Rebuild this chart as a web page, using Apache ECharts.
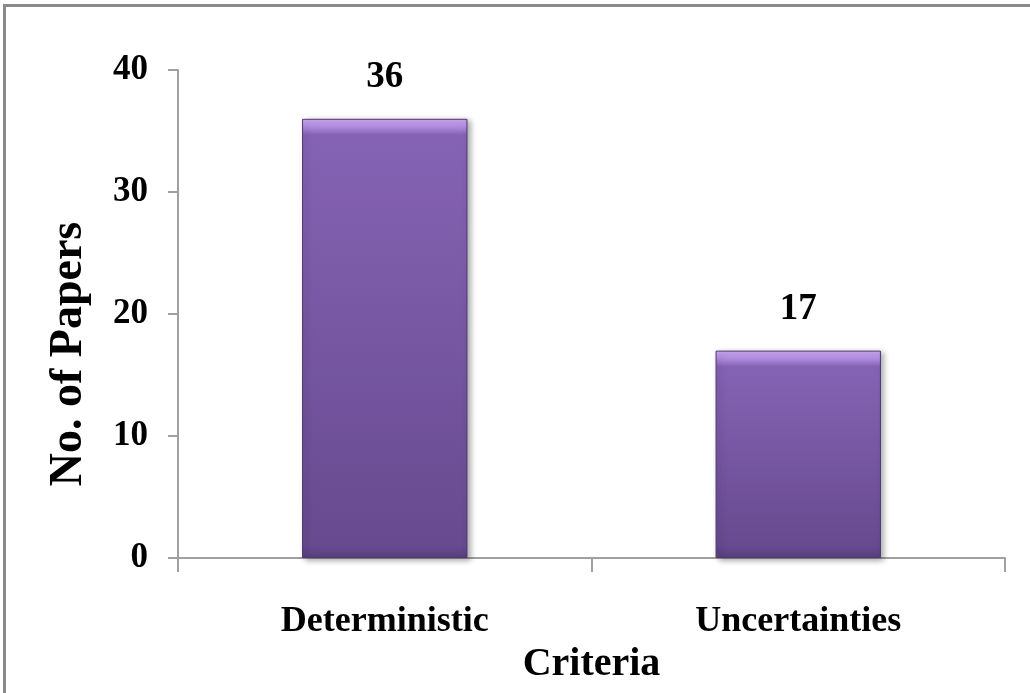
<!DOCTYPE html>
<html>
<head>
<meta charset="utf-8">
<style>
  html, body { margin: 0; padding: 0; background: #fff; }
  #frame { position: absolute; left: 3px; top: 4px; width: 1040px; height: 700px;
           border-left: 3px solid #8a8a8a; border-top: 3px solid #8a8a8a; box-sizing: border-box; }
  #chart { position: absolute; left: 0; top: 0; width: 1030px; height: 693px; }
</style>
<script src="https://cdn.jsdelivr.net/npm/echarts@6/dist/echarts.min.js"></script>
</head>
<body>
<div id="frame"></div>
<div id="chart"></div>
<script>
const categories = ['Deterministic', 'Uncertainties'];
const papers = [36, 17];
const yTicks = [0, 10, 20, 30, 40];

const FONT = '"Liberation Serif", "Times New Roman", serif';
const plotHeight = 488;
const yMax = yTicks[yTicks.length - 1];

// Bevelled purple fill: light rim at the top, then a darkening body.
function barFill(v) {
  const h = v / yMax * plotHeight;
  const rim = Math.min(16 / h, 0.2);
  return {
    type: 'linear', x: 0, y: 0, x2: 0, y2: 1,
    colorStops: [
      { offset: 0, color: '#cfaaf7' },
      { offset: rim * 0.45, color: '#b590e4' },
      { offset: rim, color: '#8563b4' },
      { offset: 1 - rim * 0.8, color: '#674a8f' },
      { offset: 1, color: '#58407e' }
    ]
  };
}

const chart = echarts.init(document.getElementById('chart'));
chart.setOption({
  animation: false,
  grid: { left: 178, right: 25, top: 70, bottom: 135 },
  xAxis: {
    type: 'category',
    data: categories,
    name: 'Criteria',
    nameLocation: 'middle',
    nameGap: 87,
    nameTextStyle: { fontFamily: FONT, fontWeight: 'bold', fontSize: 40, color: '#000' },
    axisLine: { lineStyle: { color: '#a0a0a0', width: 2 } },
    axisTick: { show: true, length: 14, lineStyle: { color: '#a0a0a0', width: 2 } },
    axisLabel: { fontFamily: FONT, fontWeight: 'bold', fontSize: 36, color: '#000', margin: 46 }
  },
  yAxis: {
    type: 'value',
    min: 0, max: yMax, interval: 10,
    name: 'No. of Papers',
    nameLocation: 'middle',
    nameGap: 86,
    nameTextStyle: {
      fontFamily: FONT, fontWeight: 'bold', fontSize: 46, color: '#000',
      padding: [0, 80, 0, 0]
    },
    axisLine: { show: true, lineStyle: { color: '#a0a0a0', width: 2 } },
    axisTick: { show: true, length: 10, lineStyle: { color: '#a0a0a0', width: 2 } },
    splitLine: { show: false },
    axisLabel: { fontFamily: FONT, fontWeight: 'bold', fontSize: 35, color: '#000', margin: 30 }
  },
  series: [{
    type: 'bar',
    barWidth: '40%',
    data: papers.map(v => ({
      value: v,
      itemStyle: {
        color: barFill(v),
        borderColor: '#4f3873', borderWidth: 1,
        shadowColor: 'rgba(0,0,0,0.35)', shadowBlur: 6, shadowOffsetX: 3, shadowOffsetY: 2
      }
    })),
    label: {
      show: true, position: 'top', distance: 23,
      fontFamily: FONT, fontWeight: 'bold', fontSize: 37, color: '#000'
    }
  }]
});
</script>
</body>
</html>
